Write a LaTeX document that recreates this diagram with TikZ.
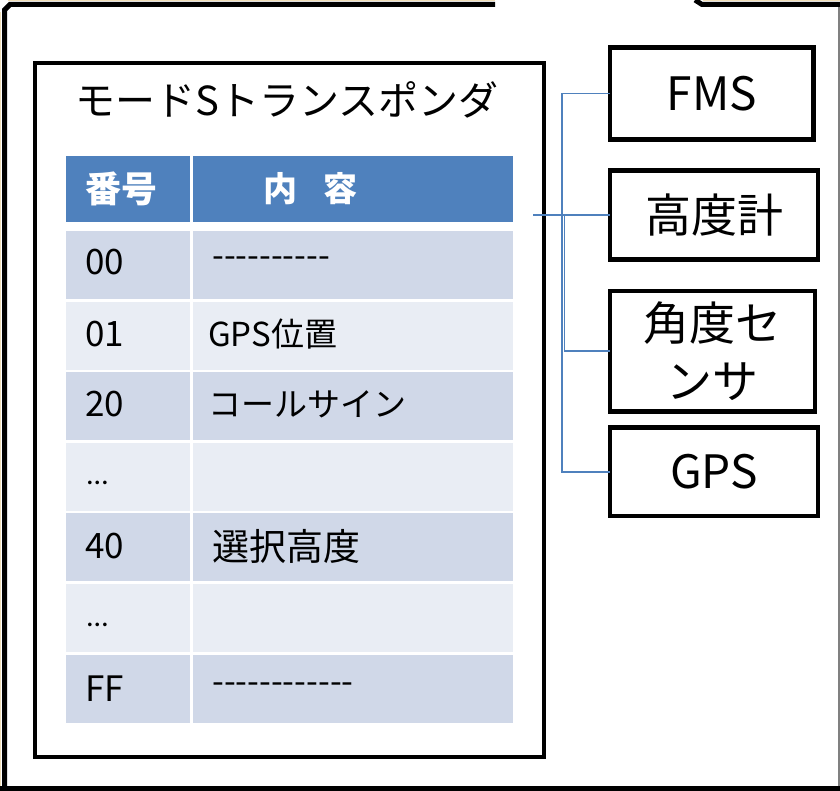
\documentclass[tikz,border=0pt]{standalone}
\usepackage{fontspec}
\setmainfont{Noto Sans CJK JP}
\newfontfamily\lat{Carlito}
\definecolor{hdr}{HTML}{4F81BD}
\definecolor{rowd}{HTML}{D0D8E8}
\definecolor{rowl}{HTML}{E9EDF4}
\definecolor{bus}{HTML}{4F81BD}
\definecolor{tanedge}{RGB}{240,222,184}
\newcommand\hy{\mbox{-}}
\tikzset{
  frame/.style={line width=5pt, black},
  devbox/.style={draw, line width=4.5pt, inner sep=0pt, outer sep=0pt, anchor=north west,
                 align=center, font=\fontsize{46}{58}\selectfont},
  cell/.style={anchor=north west, inner sep=0pt, outer sep=0pt, minimum height=68pt},
  hcell/.style={anchor=north west, inner sep=0pt, outer sep=0pt, minimum height=66pt, fill=hdr},
  txt/.style={inner sep=0pt, anchor=west},
  numtxt/.style={txt, font=\fontsize{35}{40}\selectfont},
  busline/.style={draw=bus, line width=1.7pt}
}
\begin{document}
\begin{tikzpicture}[x=1pt,y=-1pt]
\useasboundingbox (0,0) rectangle (840,791);
% outer frame (cropped)
\draw[tanedge, line width=1pt] (0.5,12) -- (0.5,791);
\draw[tanedge, line width=1pt] (8,0.5) -- (495,0.5);
\draw[tanedge, line width=1pt] (703,0.5) -- (840,0.5);
\draw[frame] (4.5,791) -- (4.5,10) -- (10,4.5) -- (495,4.5);
\draw[frame] (695,0) -- (702,4.5) -- (840,4.5);
\draw[gray, line width=2pt] (838.5,7) -- (838.5,791);
\draw[black, line width=5pt] (0,788.5) -- (840,788.5);

% transponder box
\node[draw, line width=4.5pt, inner sep=0pt, outer sep=0pt, anchor=north west,
      minimum width=509pt, minimum height=694pt] (tp) at (35,63) {};
\node[inner sep=0pt, font=\fontsize{40}{48}\selectfont] (title) at (287,100) {モードSトランスポンダ};

% table header
\node[hcell, minimum width=124pt] (h1) at (66,156) {};
\node[hcell, minimum width=320pt] (h2) at (193,156) {};
\node[txt, text=white, font=\fontsize{36}{40}\selectfont\bfseries] (h1t) at ([xshift=19pt]h1.west) {番号};
\node[txt, text=white, font=\fontsize{34}{40}\selectfont\bfseries] (h2t) at (263,189) {内\hspace{26pt}容};

% table rows
\foreach \i/\c in {0/rowd,1/rowl,2/rowd,3/rowl,4/rowd,5/rowl,6/rowd}{
  \node[cell, fill=\c, minimum width=124pt] (r\i a) at (66,{231+70.6*\i}) {};
  \node[cell, fill=\c, minimum width=320pt] (r\i b) at (193,{231+70.6*\i}) {};
}
\node[numtxt] (n0) at ([xshift=19pt,yshift=3pt]r0a.west) {00};
\node[numtxt] (n1) at ([xshift=19pt,yshift=2pt]r1a.west) {01};
\node[numtxt] (n2) at ([xshift=19pt,yshift=2pt]r2a.west) {20};
\node[inner sep=0pt, anchor=base west, font=\lat\fontsize{30}{36}\selectfont] (n3) at ([xshift=21pt,yshift=-8pt]r3a.west) {…};
\node[numtxt] (n4) at ([xshift=19pt,yshift=1pt]r4a.west) {40};
\node[inner sep=0pt, anchor=base west, font=\lat\fontsize{30}{36}\selectfont] (n5) at ([xshift=21pt,yshift=-8pt]r5a.west) {…};
\node[numtxt] (n6) at ([xshift=19pt]r6a.west) {FF};

\node[txt, font=\fontsize{34}{40}\selectfont] (c0) at ([xshift=19pt,yshift=3pt]r0b.west) {\hy\hy\hy\hy\hy\hy\hy\hy\hy\hy};
\node[txt, font=\fontsize{33}{40}\selectfont] (c1) at ([xshift=15pt,yshift=2pt]r1b.west) {GPS位置};
\node[txt, font=\fontsize{33}{40}\selectfont] (c2) at ([xshift=15pt,yshift=2pt]r2b.west) {コールサイン};
\node[txt, font=\fontsize{37}{44}\selectfont] (c4) at ([xshift=19pt,yshift=1pt]r4b.west) {選択高度};
\node[txt, font=\fontsize{34}{40}\selectfont] (c6) at ([xshift=19pt]r6b.west) {\hy\hy\hy\hy\hy\hy\hy\hy\hy\hy\hy\hy};

% devices
\node[devbox, minimum width=203.5pt, minimum height=92pt] (fms) at (610,47.5) {FMS};
\node[devbox, minimum width=208pt, minimum height=89pt] (alt) at (610,170.5) {高度計};
\node[devbox, minimum width=205pt, minimum height=120.5pt] (ang) at (610,291) {角度セ\\ンサ};
\node[devbox, minimum width=208pt, minimum height=88.5pt] (gps) at (610,427.5) {GPS};

% connectors
\coordinate (src) at (533,215);
\coordinate (j1) at (562,215);
\coordinate (j2) at (564.5,215);
\draw[busline] (fms.west) -| (j1) |- (gps.west);
\draw[busline] (src) -- (alt.west);
\draw[busline] (j2) |- (ang.west);
\end{tikzpicture}
\end{document}
